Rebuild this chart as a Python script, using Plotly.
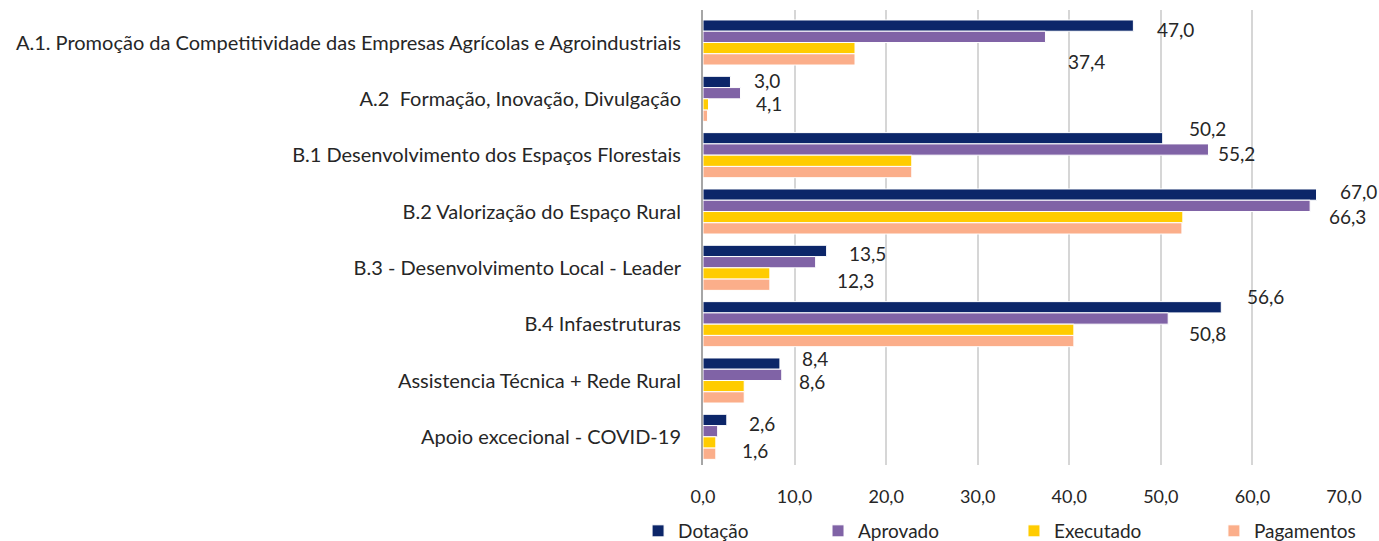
import plotly.graph_objects as go

categories = [
    "A.1. Promoção da Competitividade das Empresas Agrícolas e Agroindustriais",
    "A.2  Formação, Inovação, Divulgação",
    "B.1 Desenvolvimento dos Espaços Florestais",
    "B.2 Valorização do Espaço Rural",
    "B.3 - Desenvolvimento Local - Leader",
    "B.4 Infaestruturas",
    "Assistencia Técnica + Rede Rural",
    "Apoio excecional - COVID-19",
]
dotacao = [47.0, 3.0, 50.2, 67.0, 13.5, 56.6, 8.4, 2.6]
aprovado = [37.4, 4.1, 55.2, 66.3, 12.3, 50.8, 8.6, 1.6]
executado = [16.6, 0.6, 22.8, 52.4, 7.3, 40.5, 4.5, 1.4]
pagamentos = [16.6, 0.5, 22.8, 52.3, 7.3, 40.5, 4.5, 1.4]
x_ticks = [0, 10, 20, 30, 40, 50, 60, 70]

# label nudges (pixels): horizontal gap from bar end, vertical offset from category centre (down +)
dot_gap = [22, 22, 24, 21, 20, 24, 20, 20]
dot_dy = [-13, -18, -27, -20, -14, -28, -22, -13]
apr_gap = [21, 13, 8, 17, 19, 19, 15, 22]
apr_dy = [19, 5, -2, 5, 13, 9, 1, 14]

FONT = "Lato"
TXT = "#262626"

series = [
    ("Dotação", dotacao, "#0c2669", "legend", 0.4627),
    ("Aprovado", aprovado, "#8063a6", "legend2", 0.5932),
    ("Executado", executado, "#ffcc00", "legend3", 0.7353),
    ("Pagamentos", pagamentos, "#fbae8a", "legend4", 0.8803),
]

fig = go.Figure()
for name, vals, col, lg, _ in series:
    fig.add_trace(go.Bar(
        y=categories, x=vals, name=name, orientation="h",
        marker=dict(color=col, line=dict(color="white", width=1)),
        legend=lg, hoverinfo="x+name",
    ))

def fmt(v):
    return f"{v:.1f}".replace(".", ",")

annotations = []
for vals, gaps, dys in [(dotacao, dot_gap, dot_dy), (aprovado, apr_gap, apr_dy)]:
    for c, v, g, d in zip(categories, vals, gaps, dys):
        annotations.append(dict(
            x=v, y=c, xref="x", yref="y", text=fmt(v), showarrow=False,
            xanchor="left", yanchor="middle", xshift=g, yshift=-d,
            font=dict(family=FONT, size=19, color=TXT),
        ))

legends = {}
for i, (name, vals, col, lg, lx) in enumerate(series):
    legends[lg] = dict(orientation="h", xref="container", yref="container",
                       x=lx, y=0.0185, xanchor="left", yanchor="middle",
                       font=dict(family=FONT, size=19, color=TXT),
                       bgcolor="rgba(0,0,0,0)", itemwidth=30)

fig.update_layout(
    width=1379, height=541,
    margin=dict(l=703, r=35, t=10, b=76, autoexpand=False),
    paper_bgcolor="white", plot_bgcolor="white",
    barmode="group", bargap=0.2, bargroupgap=0,
    showlegend=True,
    annotations=annotations,
    font=dict(family=FONT, color=TXT),
    **legends,
)
fig.update_xaxes(
    range=[0, 70], tickvals=x_ticks, ticktext=[fmt(t) for t in x_ticks],
    showgrid=True, gridcolor="#d6d6d6", gridwidth=2, zeroline=False,
    showline=False, ticks="", ticklabelstandoff=19, automargin=False,
    tickfont=dict(family=FONT, size=18, color=TXT),
)
fig.update_yaxes(
    autorange="reversed", showgrid=False, showline=True, linecolor="#a6a6a6", linewidth=2,
    ticks="", ticklabelstandoff=16, automargin=False,
    tickfont=dict(family=FONT, size=20, color=TXT),
)
fig.write_html("out.html", config={"displayModeBar": False},
               post_script="document.body.style.margin='0';")
